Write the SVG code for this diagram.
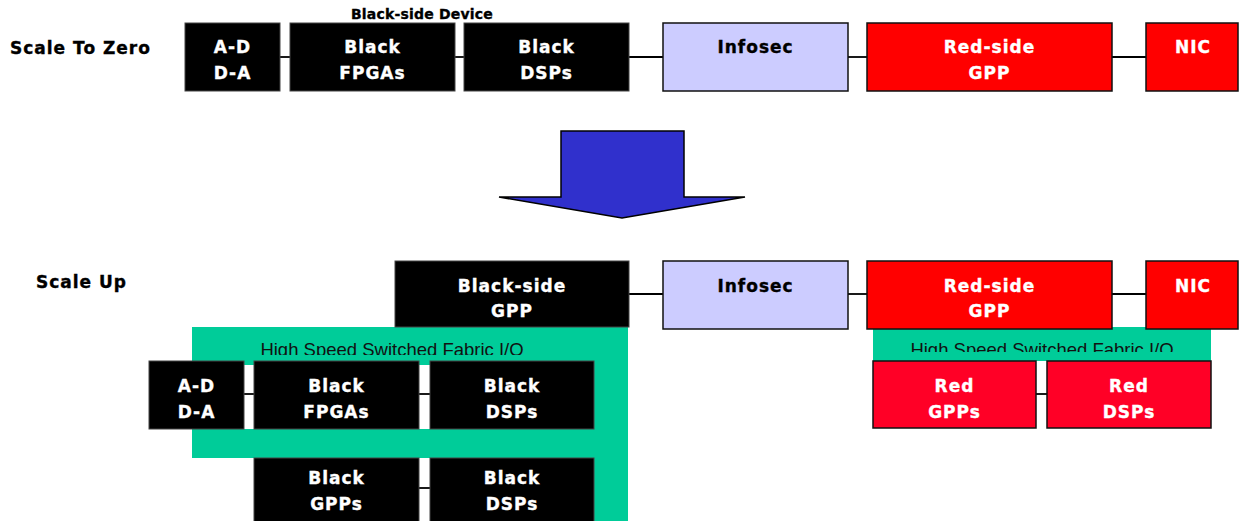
<svg xmlns="http://www.w3.org/2000/svg" width="1240" height="521" viewBox="0 0 1240 521">
  <style>
    .lbl { font-family: "DejaVu Sans", "Liberation Sans", sans-serif; font-weight: bold; font-size: 17px; letter-spacing: 1px; stroke-width: 0.35px; }
    .w { fill: #ffffff; stroke: #ffffff; text-anchor: middle; }
    .k { fill: #000000; stroke: #000000; text-anchor: middle; }
    .kl { fill: #000000; stroke: #000000; }
    .blk { fill: #000000; stroke: #444444; stroke-width: 1; }
    .red { fill: #ff0000; stroke: #111111; stroke-width: 1.5; }
    .red2 { fill: #ff0026; stroke: #111111; stroke-width: 1.5; }
    .sec { fill: #ccccff; stroke: #111111; stroke-width: 1.5; }
    .fab { fill: #00cc99; }
    .fabtxt { font-family: "Liberation Sans", Arial, sans-serif; font-size: 18.5px; fill: #111111; text-anchor: middle; }
    .wire { stroke: #000000; stroke-width: 1.8; fill: none; }
  </style>
  <defs>
    <clipPath id="clipFabL"><rect x="192" y="327" width="436" height="28"/></clipPath>
    <clipPath id="clipFabR"><rect x="873" y="327" width="338" height="25"/></clipPath>
  </defs>

  <rect width="1240" height="521" fill="#ffffff"/>

  <!-- section titles -->
  <text class="lbl kl" x="10" y="54">Scale To Zero</text>
  <text class="lbl kl" x="36" y="288">Scale Up</text>
  <text class="lbl k" x="422" y="19" style="font-size:14px;letter-spacing:0.2px">Black-side Device</text>

  <!-- switched fabric backgrounds -->
  <g id="fabric-black">
    <path class="fab" d="M192 327 H628 V521 H594 V458 H192 Z"/>
    <rect x="244" y="365" width="10" height="64" fill="#ffffff"/>
    <rect x="419" y="365" width="11" height="64" fill="#ffffff"/>
    <text class="fabtxt" x="392" y="356" clip-path="url(#clipFabL)">High Speed Switched Fabric I/O</text>
  </g>
  <g id="fabric-red">
    <rect class="fab" x="873" y="327" width="338" height="34"/>
    <text class="fabtxt" x="1042" y="356" clip-path="url(#clipFabR)">High Speed Switched Fabric I/O</text>
  </g>

  <!-- connectors -->
  <g id="connectors">
    <line class="wire" x1="280" y1="57" x2="290" y2="57"/>
    <line class="wire" x1="455" y1="57" x2="464" y2="57"/>
    <line class="wire" x1="629" y1="57" x2="663" y2="57"/>
    <line class="wire" x1="848" y1="57" x2="867" y2="57"/>
    <line class="wire" x1="1112" y1="57" x2="1146" y2="57"/>
    <line class="wire" x1="629" y1="294" x2="663" y2="294"/>
    <line class="wire" x1="848" y1="294" x2="867" y2="294"/>
    <line class="wire" x1="1112" y1="294" x2="1146" y2="294"/>
    <line class="wire" x1="244" y1="394" x2="254" y2="394"/>
    <line class="wire" x1="419" y1="394" x2="430" y2="394"/>
    <line class="wire" x1="1036" y1="394" x2="1047" y2="394"/>
    <line class="wire" x1="419" y1="488" x2="430" y2="488"/>
  </g>

  <!-- transition arrow -->
  <g id="arrow">
    <polygon points="561,131 684,131 684,197 745,197 622,218 499,197 561,197" fill="#3030cc" stroke="#000" stroke-width="1.5" stroke-linejoin="miter"/>
  </g>

  <!-- top row: scale to zero -->
  <g id="t-adda"><rect class="blk" x="185" y="23" width="95" height="68"/>
    <text class="lbl w" x="232.5" y="53">A-D</text><text class="lbl w" x="232.5" y="79">D-A</text></g>
  <g id="t-fpga"><rect class="blk" x="290" y="23" width="165" height="68"/>
    <text class="lbl w" x="372.5" y="53">Black</text><text class="lbl w" x="372.5" y="79">FPGAs</text></g>
  <g id="t-dsp"><rect class="blk" x="464" y="23" width="165" height="68"/>
    <text class="lbl w" x="546.5" y="53">Black</text><text class="lbl w" x="546.5" y="79">DSPs</text></g>
  <g id="t-infosec"><rect class="sec" x="663" y="23" width="185" height="68"/>
    <text class="lbl k" x="755.5" y="53">Infosec</text></g>
  <g id="t-redgpp"><rect class="red" x="867" y="23" width="245" height="68"/>
    <text class="lbl w" x="989.5" y="53">Red-side</text><text class="lbl w" x="989.5" y="79">GPP</text></g>
  <g id="t-nic"><rect class="red" x="1146" y="23" width="92" height="68"/>
    <text class="lbl w" x="1193" y="53">NIC</text></g>

  <!-- lower section: scale up -->
  <g id="u-blackgpp"><rect class="blk" x="395" y="261" width="234" height="66"/>
    <text class="lbl w" x="512" y="292">Black-side</text><text class="lbl w" x="512" y="317">GPP</text></g>
  <g id="u-infosec"><rect class="sec" x="663" y="261" width="185" height="68"/>
    <text class="lbl k" x="755.5" y="292">Infosec</text></g>
  <g id="u-redgpp"><rect class="red" x="867" y="261" width="245" height="68"/>
    <text class="lbl w" x="989.5" y="292">Red-side</text><text class="lbl w" x="989.5" y="317">GPP</text></g>
  <g id="u-nic"><rect class="red" x="1146" y="261" width="92" height="68"/>
    <text class="lbl w" x="1193" y="292">NIC</text></g>

  <g id="u-adda"><rect class="blk" x="149" y="361" width="95" height="68"/>
    <text class="lbl w" x="196.5" y="392">A-D</text><text class="lbl w" x="196.5" y="418">D-A</text></g>
  <g id="u-fpga"><rect class="blk" x="254" y="361" width="165" height="68"/>
    <text class="lbl w" x="336.5" y="392">Black</text><text class="lbl w" x="336.5" y="418">FPGAs</text></g>
  <g id="u-dsp"><rect class="blk" x="430" y="361" width="164" height="68"/>
    <text class="lbl w" x="512" y="392">Black</text><text class="lbl w" x="512" y="418">DSPs</text></g>
  <g id="u-gpps"><rect class="blk" x="254" y="458" width="165" height="64"/>
    <text class="lbl w" x="336.5" y="484">Black</text><text class="lbl w" x="336.5" y="510">GPPs</text></g>
  <g id="u-dsps2"><rect class="blk" x="430" y="458" width="164" height="64"/>
    <text class="lbl w" x="512" y="484">Black</text><text class="lbl w" x="512" y="510">DSPs</text></g>

  <g id="u-redgpps"><rect class="red2" x="873" y="361" width="163" height="67"/>
    <text class="lbl w" x="954.5" y="392">Red</text><text class="lbl w" x="954.5" y="418">GPPs</text></g>
  <g id="u-reddsps"><rect class="red2" x="1047" y="361" width="164" height="67"/>
    <text class="lbl w" x="1129" y="392">Red</text><text class="lbl w" x="1129" y="418">DSPs</text></g>
</svg>
